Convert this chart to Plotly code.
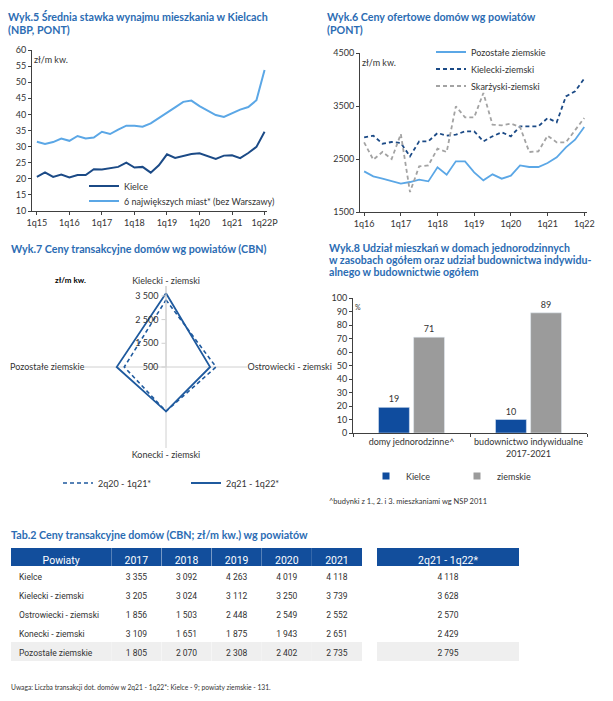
import plotly.graph_objects as go

W, H = 613, 701
def X(p): return p / W
def Y(p): return 1 - p / H

FONT = "Lato, 'Open Sans', sans-serif"
NARROW = "Roboto, 'Liberation Sans Narrow', sans-serif"
TITLE_C = "#2b6cb3"
DARK = "#1b4a86"
LIGHT = "#5ba7e6"
GRAY = "#a3a3a3"
TXT = "#333333"
BAR_BLUE = "#0f4c9e"
BAR_GRAY = "#9b9b9b"

# ---- Wyk.5 data ----
q5_labels = ["1q15", "1q16", "1q17", "1q18", "1q19", "1q20", "1q21", "1q22P"]
kielce_rent = [20.6, 22.0, 20.6, 21.3, 20.4, 21.2, 21.2, 23.0, 22.9, 23.4, 23.7, 25.0, 23.5, 23.7,
               21.9, 24.2, 27.6, 26.5, 27.1, 27.7, 27.9, 27.1, 26.2, 27.2, 27.3, 26.4, 28.0, 29.9, 34.6]
six_cities_rent = [31.5, 30.8, 31.4, 32.5, 31.8, 33.3, 32.5, 32.8, 34.6, 33.9, 35.3, 36.5, 36.5, 36.2,
                   37.2, 38.8, 40.5, 42.2, 43.9, 44.3, 42.6, 41.3, 39.8, 39.2, 40.3, 41.5, 42.3, 44.4, 53.8]

# ---- Wyk.6 data ----
q6_labels = ["1q16", "1q17", "1q18", "1q19", "1q20", "1q21", "1q22"]
pozostale_offer = [2267, 2173, 2129, 2078, 2034, 2066, 2110, 2078, 2343, 2204, 2456, 2456, 2248,
                   2097, 2210, 2129, 2185, 2380, 2349, 2349, 2424, 2531, 2720, 2865, 3104]
kielecki_offer = [2909, 2940, 2789, 2821, 2802, 2550, 2833, 2833, 2990, 2940, 2959, 3022, 3022,
                  2833, 2928, 3003, 2928, 3116, 3116, 3116, 3273, 3192, 3682, 3777, 4016]
skarzyski_offer = [2814, 2487, 2632, 2500, 2972, 1877, 2361, 2380, 2695, 2632, 3494, 3286, 3286,
                   3745, 3148, 3135, 3167, 3104, 2632, 2644, 2940, 2814, 2814, 3034, 3273]

# ---- Wyk.7 data ----
radar_cats = ["Kielecki - ziemski", "Ostrowiecki - ziemski", "Konecki - ziemski", "Pozostałe ziemskie"]
radar_prev = [3330, 2610, 2370, 2260]   # 2q20 - 1q21*
radar_curr = [3610, 2360, 2370, 2580]   # 2q21 - 1q22*

# ---- Wyk.8 data ----
bar_cats = ["domy jednorodzinne^", "budownictwo indywidualne<br>2017-2021"]
bar_kielce = [19, 10]
bar_ziemskie = [71, 89]

# ---- Tab.2 data ----
tab_rows = ["Kielce", "Kielecki - ziemski", "Ostrowiecki - ziemski", "Konecki - ziemski", "Pozostałe ziemskie"]
tab_years = ["2017", "2018", "2019", "2020", "2021"]
tab_2017 = ["3 355", "3 205", "1 856", "3 109", "1 805"]
tab_2018 = ["3 092", "3 024", "1 503", "1 651", "2 070"]
tab_2019 = ["4 263", "3 112", "2 448", "1 875", "2 308"]
tab_2020 = ["4 019", "3 250", "2 549", "1 943", "2 402"]
tab_2021 = ["4 118", "3 739", "2 552", "2 651", "2 735"]
tab_last = ["4 118", "3 628", "2 570", "2 429", "2 795"]

fig = go.Figure()

# Wyk.5
x5 = list(range(len(kielce_rent)))
fig.add_trace(go.Scatter(x=x5, y=kielce_rent, mode="lines", name="Kielce",
                         line=dict(color=DARK, width=2), xaxis="x", yaxis="y", legend="legend"))
fig.add_trace(go.Scatter(x=x5, y=six_cities_rent, mode="lines", name="6 największych miast* (bez Warszawy)",
                         line=dict(color=LIGHT, width=2), xaxis="x", yaxis="y", legend="legend5"))

# Wyk.6
x6 = list(range(len(pozostale_offer)))
fig.add_trace(go.Scatter(x=x6, y=pozostale_offer, mode="lines", name="Pozostałe ziemskie",
                         line=dict(color=LIGHT, width=1.8), xaxis="x2", yaxis="y2", legend="legend2"))
fig.add_trace(go.Scatter(x=x6, y=kielecki_offer, mode="lines", name="Kielecki-ziemski",
                         line=dict(color=DARK, width=1.8, dash="4px,3px"), xaxis="x2", yaxis="y2", legend="legend8"))
fig.add_trace(go.Scatter(x=x6, y=skarzyski_offer, mode="lines", name="Skarżyski-ziemski",
                         line=dict(color=GRAY, width=1.8, dash="4px,3px"), xaxis="x2", yaxis="y2", legend="legend9"))

# Wyk.7 radar
fig.add_trace(go.Scatterpolar(r=radar_prev + radar_prev[:1], theta=radar_cats + radar_cats[:1],
                              mode="lines", name="2q20 - 1q21*", line=dict(color="#1f5a9e", width=1.6, dash="4px,3px"),
                              subplot="polar", legend="legend3"))
fig.add_trace(go.Scatterpolar(r=radar_curr + radar_curr[:1], theta=radar_cats + radar_cats[:1],
                              mode="lines", name="2q21 - 1q22*", line=dict(color="#1f5a9e", width=1.8),
                              subplot="polar", legend="legend6"))

# Wyk.8 bars
fig.add_trace(go.Bar(x=bar_cats, y=bar_kielce, name="Kielce", marker_color=BAR_BLUE,
                     text=bar_kielce, textposition="outside", textfont=dict(size=9, color=TXT),
                     cliponaxis=False, xaxis="x3", yaxis="y3", showlegend=False))
fig.add_trace(go.Bar(x=bar_cats, y=bar_ziemskie, name="ziemskie", marker_color=BAR_GRAY,
                     text=bar_ziemskie, textposition="outside", textfont=dict(size=9, color=TXT),
                     cliponaxis=False, xaxis="x3", yaxis="y3", showlegend=False))
# legend keys for the bars (small squares)
fig.add_trace(go.Scatter(x=[None], y=[None], mode="markers", name="Kielce",
                         marker=dict(symbol="square", size=7, color=BAR_BLUE),
                         xaxis="x3", yaxis="y3", legend="legend4"))
fig.add_trace(go.Scatter(x=[None], y=[None], mode="markers", name="ziemskie",
                         marker=dict(symbol="square", size=7, color=BAR_GRAY),
                         xaxis="x3", yaxis="y3", legend="legend7"))

# Table
n = len(tab_rows)
row_fill = ["white"] * (n - 1) + ["#efefef"]
left_cols = [tab_rows, tab_2017, tab_2018, tab_2019, tab_2020, tab_2021]
fig.add_trace(go.Table(
    domain=dict(x=[X(11), X(362)], y=[Y(690), Y(548)]),
    columnwidth=[100, 50, 50, 50, 50, 50],
    header=dict(values=["Powiaty"] + tab_years, fill_color="#124e9c", height=18,
                font=dict(family=NARROW, size=10.5, color="white"), align="center",
                line=dict(color="#124e9c", width=0)),
    cells=dict(values=left_cols, fill_color=[row_fill] * 6, height=19,
               font=dict(family=NARROW, size=8.5, color=TXT),
               align=["left", "center", "center", "center", "center", "center"],
               line=dict(color="white", width=0))))
fig.add_trace(go.Table(
    domain=dict(x=[X(377), X(520)], y=[Y(690), Y(548)]),
    header=dict(values=["2q21 - 1q22*"], fill_color="#124e9c", height=18,
                font=dict(family=NARROW, size=10.5, color="white"), align="center",
                line=dict(color="#124e9c", width=0)),
    cells=dict(values=[tab_last], fill_color=[row_fill], height=19,
               font=dict(family=NARROW, size=8.5, color=TXT), align="center",
               line=dict(color="white", width=0))))

axis_common = dict(showgrid=False, zeroline=False, showline=True, linecolor="#404040", linewidth=1,
                   ticks="outside", ticklen=3, tickcolor="#404040", tickfont=dict(size=9, color=TXT),
                   automargin=False)

def leg(x, y, **kw):
    d = dict(x=X(x), y=Y(y), xanchor="left", yanchor="middle", bgcolor="rgba(0,0,0,0)",
             font=dict(size=9, color=TXT), itemwidth=30)
    d.update(kw)
    return d

R = 81
RMAX = 500 + R * 3290 / 78

fig.update_layout(
    width=W, height=H, autosize=False, margin=dict(l=0, r=0, t=0, b=0, autoexpand=False),
    paper_bgcolor="white", plot_bgcolor="white",
    font=dict(family=FONT, size=9, color=TXT),
    xaxis=dict(domain=[X(32), X(267)], range=[-0.6, 28.3], tickvals=list(range(0, 29, 4)),
               ticktext=q5_labels, anchor="y", **axis_common),
    yaxis=dict(domain=[Y(211), Y(50)], range=[10, 60], dtick=5, anchor="x", **axis_common),
    xaxis2=dict(domain=[X(360), X(587)], range=[-0.45, 24.3], tickvals=list(range(0, 25, 4)),
                ticktext=q6_labels, anchor="y2", **axis_common),
    yaxis2=dict(domain=[Y(212), Y(53)], range=[1500, 4500], tickvals=[1500, 2500, 3500, 4500],
                anchor="x2", **axis_common),
    xaxis3=dict(domain=[X(353), X(587)], anchor="y3", type="category", tickson="boundaries",
                tickangle=0, **axis_common),
    yaxis3=dict(domain=[Y(433), Y(298)], range=[0, 100], dtick=10, anchor="x3", **axis_common),
    barmode="group", bargap=0.4, bargroupgap=0.12,
    polar=dict(
        domain=dict(x=[X(166 - R), X(166 + R)], y=[Y(367 + R), Y(367 - R)]),
        bgcolor="rgba(0,0,0,0)",
        radialaxis=dict(range=[500, RMAX], angle=90, tickangle=90, tickvals=[500, 1500, 2500, 3500],
                        ticktext=["500", "1 500", "2 500", "3 500"], showgrid=False, showline=True,
                        linecolor="#d0d0d0", ticks="outside", ticklen=4, tickcolor="#d0d0d0",
                        tickfont=dict(size=9, color=TXT), side="counterclockwise"),
        angularaxis=dict(rotation=90, direction="clockwise", showline=False, showgrid=True,
                         gridcolor="#d0d0d0", ticks="", tickfont=dict(size=9, color=TXT))),
    legend=leg(84, 186),
    legend5=leg(84, 201),
    legend2=leg(431, 52),
    legend8=leg(431, 69),
    legend9=leg(431, 86),
    legend3=leg(58, 483),
    legend6=leg(186, 483),
    legend4=leg(366, 476),
    legend7=leg(457, 476),
)

def ann(text, x, y, size=9, color=TXT, weight=None, xanchor="left", family=FONT):
    f = dict(size=size, color=color, family=family)
    if weight:
        f["weight"] = weight
    fig.add_annotation(text=text, x=X(x), y=Y(y), xref="paper", yref="paper", showarrow=False,
                       xanchor=xanchor, yanchor="middle", align="left", font=f)

TS = 10.7
ann("Wyk.5 Średnia stawka wynajmu mieszkania w Kielcach", 6, 16, TS, TITLE_C, "bold")
ann("(NBP, PONT)", 6, 30, TS, TITLE_C, "bold")
ann("Wyk.6 Ceny ofertowe domów wg powiatów", 325, 16, TS, TITLE_C, "bold")
ann("(PONT)", 325, 30, TS, TITLE_C, "bold")
ann("Wyk.7 Ceny transakcyjne domów wg powiatów (CBN)", 9, 248, TS, TITLE_C, "bold")
ann("Wyk.8 Udział mieszkań w domach jednorodzinnych", 327, 248, 10.6, TITLE_C, "bold")
ann("w zasobach ogółem oraz udział budownictwa indywidu-", 327, 260, 10.6, TITLE_C, "bold")
ann("alnego w budownictwie ogółem", 327, 272, 10.6, TITLE_C, "bold")
ann("Tab.2 Ceny transakcyjne domów (CBN; zł/m kw.) wg powiatów", 9, 534, TS, TITLE_C, "bold")
ann("zł/m kw.", 32, 60, 9)
ann("zł/m kw.", 360, 62, 9)
ann("zł/m kw.", 53, 280, 8, "#000000", "bold")
ann("%", 353, 307, 7)
ann("^budynki z 1., 2. i 3. mieszkaniami wg NSP 2011", 327, 502, 7.5)
ann("Uwaga: Liczba transakcji dot. domów w 2q21 - 1q22*: Kielce - 9; powiaty ziemskie - 131.", 9, 687, 6.7)

fig.write_html("out.html", config={"displayModeBar": False},
               post_script="document.body.style.margin='0';")
